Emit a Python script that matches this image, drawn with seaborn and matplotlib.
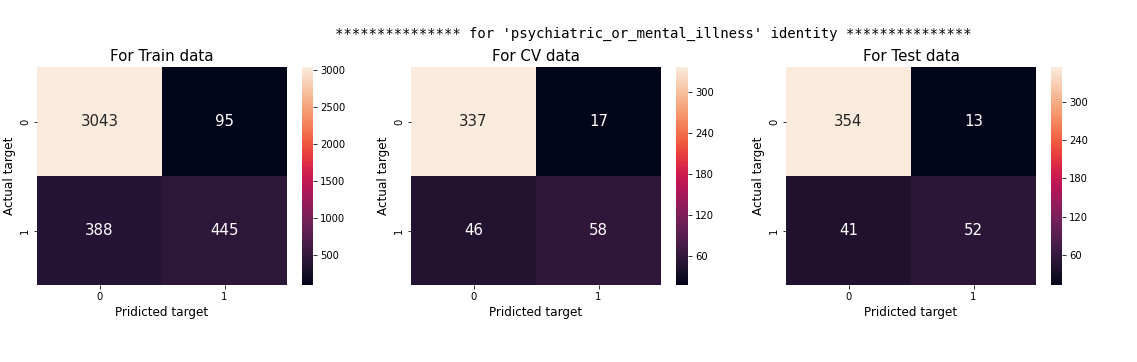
import matplotlib
matplotlib.use("Agg")
import matplotlib.pyplot as plt
import seaborn as sns
import numpy as np

titles = ["For Train data", "For CV data", "For Test data"]
train_cm = [[3043, 95], [388, 445]]
cv_cm = [[337, 17], [46, 58]]
test_cm = [[354, 13], [41, 52]]
tick_labels = ["0", "1"]
train_cbar_ticks = [500, 1000, 1500, 2000, 2500, 3000]
cv_cbar_ticks = [60, 120, 180, 240, 300]
test_cbar_ticks = [60, 120, 180, 240, 300]
suptitle = "*************** for 'psychiatric_or_mental_illness' identity ***************"

W, H = 1137, 362
fig = plt.figure(figsize=(W / 72, H / 72), dpi=72)
fig.patch.set_facecolor("white")

ax_px = [(37, 287), (411, 661), (786, 1036)]
cb_px = [(302, 313), (676, 688), (1051, 1062)]
top, bottom = 67, 285

for i, (cm, title, cticks) in enumerate(zip([train_cm, cv_cm, test_cm], titles,
                                            [train_cbar_ticks, cv_cbar_ticks, test_cbar_ticks])):
    l, r = ax_px[i]
    ax = fig.add_axes([l / W, 1 - bottom / H, (r - l) / W, (bottom - top) / H])
    cl, cr = cb_px[i]
    cax = fig.add_axes([cl / W, 1 - bottom / H, (cr - cl) / W, (bottom - top) / H])
    sns.heatmap(np.array(cm), annot=True, fmt="d", ax=ax, cbar_ax=cax,
                annot_kws={"size": 15}, xticklabels=tick_labels, yticklabels=tick_labels,
                cbar_kws={"ticks": cticks})
    ax.set_title(title, fontsize=15)
    ax.set_xlabel("Pridicted target", fontsize=12)
    ax.set_ylabel("Actual target", fontsize=12)
    ax.tick_params(labelsize=10)
    cax.tick_params(labelsize=10)

fig.text(653 / W, 1 - 34 / H, suptitle, ha="center", va="center",
         family="DejaVu Sans Mono", fontsize=14)

fig.savefig("out.png", dpi=72, facecolor="white")
